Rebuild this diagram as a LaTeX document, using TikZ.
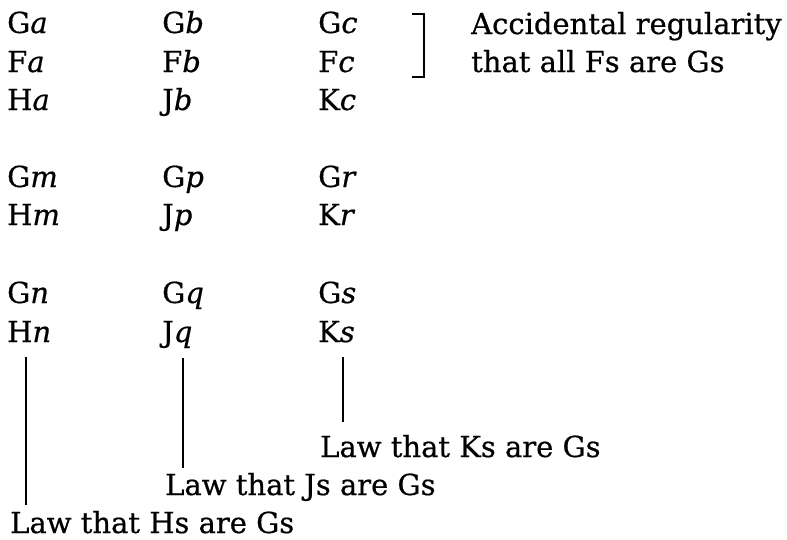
\documentclass[tikz,border=0pt]{standalone}
\usepackage{fontspec}
\setmainfont{DejaVu Serif}
\newfontfamily\heavy{DejaVu Serif}[FakeBold=0.6, ItalicFont=DejaVu Serif Italic, ItalicFeatures={FakeBold=0.6}]
\begin{document}
\begin{tikzpicture}[x=1pt,y=-1pt,
  lbl/.style={anchor=base west, inner sep=0pt, font=\heavy\fontsize{29}{34}\selectfont},
  link/.style={line width=1.3pt},
  brack/.style={line width=2.8pt}]
\useasboundingbox (0,0) rectangle (787,539);
% group 1
\node[lbl] (Ga) at (7,33) {G\textit{a}};
\node[lbl] (Fa) at (7,72) {F\textit{a}};
\node[lbl] (Ha) at (7,110) {H\textit{a}};
\node[lbl] (Gb) at (162,33) {G\textit{b}};
\node[lbl] (Fb) at (162,72) {F\textit{b}};
\node[lbl] (Jb) at (162,110) {J\textit{b}};
\node[lbl] (Gc) at (318,33) {G\textit{c}};
\node[lbl] (Fc) at (318,72) {F\textit{c}};
\node[lbl] (Kc) at (318,110) {K\textit{c}};
% group 2
\node[lbl] (Gm) at (7,187) {G\textit{m}};
\node[lbl] (Hm) at (7,225) {H\textit{m}};
\node[lbl] (Gp) at (162,187) {G\textit{p}};
\node[lbl] (Jp) at (162,225) {J\textit{p}};
\node[lbl] (Gr) at (318,187) {G\textit{r}};
\node[lbl] (Kr) at (318,225) {K\textit{r}};
% group 3
\node[lbl] (Gn) at (7,303) {G\textit{n}};
\node[lbl] (Hn) at (7,342) {H\textit{n}};
\node[lbl] (Gq) at (162,303) {G\textit{q}};
\node[lbl] (Jq) at (162,342) {J\textit{q}};
\node[lbl] (Gs) at (318,303) {G\textit{s}};
\node[lbl] (Ks) at (318,342) {K\textit{s}};
% accidental regularity
\node[lbl] (acc1) at (471,34) {Accidental regularity};
\node[lbl] (acc2) at (471,72) {that all Fs are Gs};
\coordinate (bt) at (412,14);
\coordinate (bb) at (412,77);
\draw[brack] (bt) -- ++(12,0) -- ++(0,63) -- (bb);
% laws
\node[lbl] (lawH) at (10,533) {Law that Hs are Gs};
\node[lbl] (lawJ) at (165,495) {Law that Js are Gs};
\node[lbl] (lawK) at (320,457) {Law that Ks are Gs};
\coordinate (h1) at (26,357);
\coordinate (h2) at (26,505);
\coordinate (j1) at (183,358);
\coordinate (j2) at (183,468);
\coordinate (k1) at (343,357);
\coordinate (k2) at (343,422);
\draw[link] (h1) -- (h2);
\draw[link] (j1) -- (j2);
\draw[link] (k1) -- (k2);
\end{tikzpicture}
\end{document}
